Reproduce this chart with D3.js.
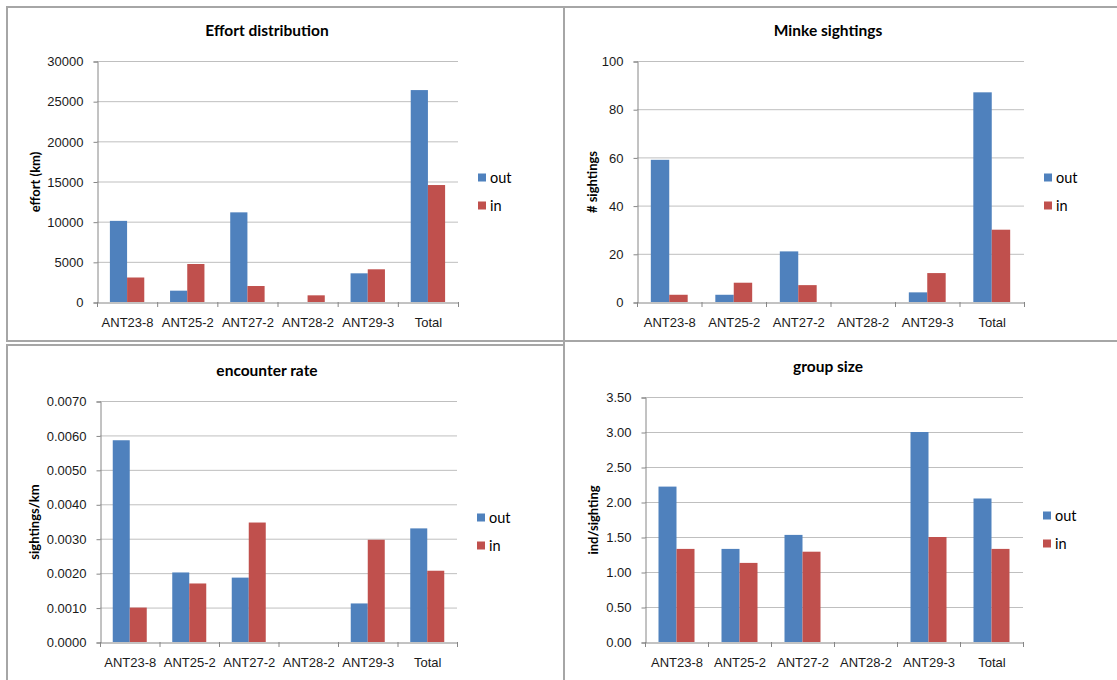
<!DOCTYPE html>
<html>
<head>
<meta charset="utf-8">
<script src="https://cdn.jsdelivr.net/npm/d3@7"></script>
<style>
  html, body { margin: 0; padding: 0; background: #fff; }
  svg { display: block; font-family: Lato, "Open Sans", sans-serif; }
  .tick text { fill: #1a1a1a; }
</style>
</head>
<body>
<svg id="chart" width="1117" height="680"></svg>
<script>
// categories and series
const categories = ['ANT23-8', 'ANT25-2', 'ANT27-2', 'ANT28-2', 'ANT29-3', 'Total'];
const seriesNames = ['out', 'in'];
const seriesColors = ['#4F81BD', '#C0504D'];

// Effort distribution (km)
const effortOut = [10100, 1410, 11160, 0, 3570, 26380];
const effortIn = [3050, 4730, 1990, 830, 4070, 14560];
const effortTicks = [0, 5000, 10000, 15000, 20000, 25000, 30000];

// Minke sightings
const minkeOut = [59, 3, 21, 0, 4, 87];
const minkeIn = [3, 8, 7, 0, 12, 30];
const minkeTicks = [0, 20, 40, 60, 80, 100];

// encounter rate (sightings/km)
const encounterOut = [0.00586, 0.00202, 0.00187, 0, 0.00112, 0.00330];
const encounterIn = [0.00100, 0.00170, 0.00347, 0, 0.00297, 0.00207];
const encounterTicks = [0, 0.001, 0.002, 0.003, 0.004, 0.005, 0.006, 0.007];

// group size (ind/sighting)
const groupOut = [2.22, 1.33, 1.53, 0, 3.00, 2.05];
const groupIn = [1.33, 1.13, 1.29, 0, 1.50, 1.33];
const groupTicks = [0, 0.5, 1.0, 1.5, 2.0, 2.5, 3.0, 3.5];

const svg = d3.select('#chart');

// panel frames
const frames = [
  {x: 7, y: 7, w: 557, h: 334},
  {x: 564, y: 7, w: 560, h: 334},
  {x: 7, y: 345, w: 557, h: 340},
  {x: 564, y: 341, w: 560, h: 344}
];
svg.selectAll('.frame').data(frames).enter().append('rect')
  .attr('class', 'frame')
  .attr('x', d => d.x).attr('y', d => d.y)
  .attr('width', d => d.w).attr('height', d => d.h)
  .attr('fill', 'none').attr('stroke', '#a6a6a6').attr('stroke-width', 2);

const panels = [
  {title: 'Effort distribution', ylabel: 'effort (km)', out: effortOut, in: effortIn, ticks: effortTicks, fmt: d3.format('d'),
   x0: 97, x1: 458, y0: 61, y1: 302, tx: 267, ty: 31, lx: 35, ly: 182},
  {title: 'Minke sightings', ylabel: '# sightings', out: minkeOut, in: minkeIn, ticks: minkeTicks, fmt: d3.format('d'),
   x0: 637, x1: 1024, y0: 61, y1: 302, tx: 828, ty: 31, lx: 592, ly: 182},
  {title: 'encounter rate', ylabel: 'sightings/km', out: encounterOut, in: encounterIn, ticks: encounterTicks, fmt: d3.format('.4f'),
   x0: 100, x1: 457, y0: 401, y1: 642, tx: 267, ty: 371, lx: 34, ly: 522},
  {title: 'group size', ylabel: 'ind/sighting', out: groupOut, in: groupIn, ticks: groupTicks, fmt: d3.format('.2f'),
   x0: 645, x1: 1023, y0: 397, y1: 642, tx: 828, ty: 367, lx: 593, ly: 520}
];

panels.forEach(drawPanel);

function drawPanel(p) {
  const x = d3.scaleBand().domain(categories).range([p.x0, p.x1]).padding(0);
  const y = d3.scaleLinear().domain([0, d3.max(p.ticks)]).range([p.y1, p.y0]);
  // Excel gap width 150%
  const barW = x.bandwidth() / 3.5;
  const xs = d3.scaleBand().domain(seriesNames).range([0, barW * 2]);

  const g = svg.append('g');

  // gridlines
  g.append('g')
    .selectAll('line').data(p.ticks.slice(1)).enter().append('line')
    .attr('x1', p.x0).attr('x2', p.x1)
    .attr('y1', d => y(d) + 0.5).attr('y2', d => y(d) + 0.5)
    .attr('stroke', '#bfbfbf').attr('stroke-width', 1);

  // y axis
  const ya = g.append('g')
    .attr('transform', `translate(${p.x0 + 0.5},0.5)`)
    .call(d3.axisLeft(y).tickValues(p.ticks).tickFormat(p.fmt).tickSize(4).tickPadding(10));
  ya.select('.domain').attr('stroke', '#868686');
  ya.selectAll('.tick line').attr('stroke', '#868686');
  ya.selectAll('.tick text').attr('font-size', 13);

  // bars
  const series = [p.out, p.in];
  series.forEach((vals, si) => {
    g.append('g').selectAll('rect').data(vals).enter().append('rect')
      .attr('x', (d, i) => x(categories[i]) + (x.bandwidth() - barW * 2) / 2 + xs(seriesNames[si]))
      .attr('y', d => y(d))
      .attr('width', xs.bandwidth())
      .attr('height', d => y(0) - y(d))
      .attr('fill', seriesColors[si]);
  });

  // x axis
  const xa = g.append('g')
    .attr('transform', `translate(0.5,${p.y1 + 0.5})`)
    .call(d3.axisBottom(x).tickSize(0).tickPadding(15));
  xa.select('.domain').attr('stroke', '#868686');
  xa.selectAll('.tick text').attr('font-size', 13);
  // category boundary ticks
  g.append('g').selectAll('line').data(d3.range(categories.length + 1)).enter().append('line')
    .attr('x1', i => p.x0 + i * x.bandwidth() + 0.5).attr('x2', i => p.x0 + i * x.bandwidth() + 0.5)
    .attr('y1', p.y1).attr('y2', p.y1 + 5)
    .attr('stroke', '#868686');

  // title
  g.append('text')
    .attr('x', p.tx).attr('y', p.ty).attr('dy', '0.35em')
    .attr('text-anchor', 'middle')
    .attr('font-size', 15.5).attr('font-weight', 'bold').attr('fill', '#000')
    .text(p.title);

  // y axis label
  g.append('text')
    .attr('transform', `translate(${p.lx},${p.ly}) rotate(-90)`)
    .attr('dy', '0.35em')
    .attr('text-anchor', 'middle')
    .attr('font-size', 13).attr('font-weight', 'bold').attr('fill', '#000')
    .text(p.ylabel);

  // legend
  const mid = (p.y0 + p.y1) / 2;
  const lg = g.append('g').attr('transform', `translate(${p.x1 + 20},${mid - 4})`);
  seriesNames.forEach((s, i) => {
    lg.append('rect')
      .attr('x', 0).attr('y', i * 28 - 4)
      .attr('width', 8).attr('height', 8)
      .attr('fill', seriesColors[i]);
    lg.append('text')
      .attr('x', 12).attr('y', i * 28).attr('dy', '0.35em')
      .attr('font-size', 14.5).attr('fill', '#000')
      .text(s);
  });
}
</script>
</body>
</html>
